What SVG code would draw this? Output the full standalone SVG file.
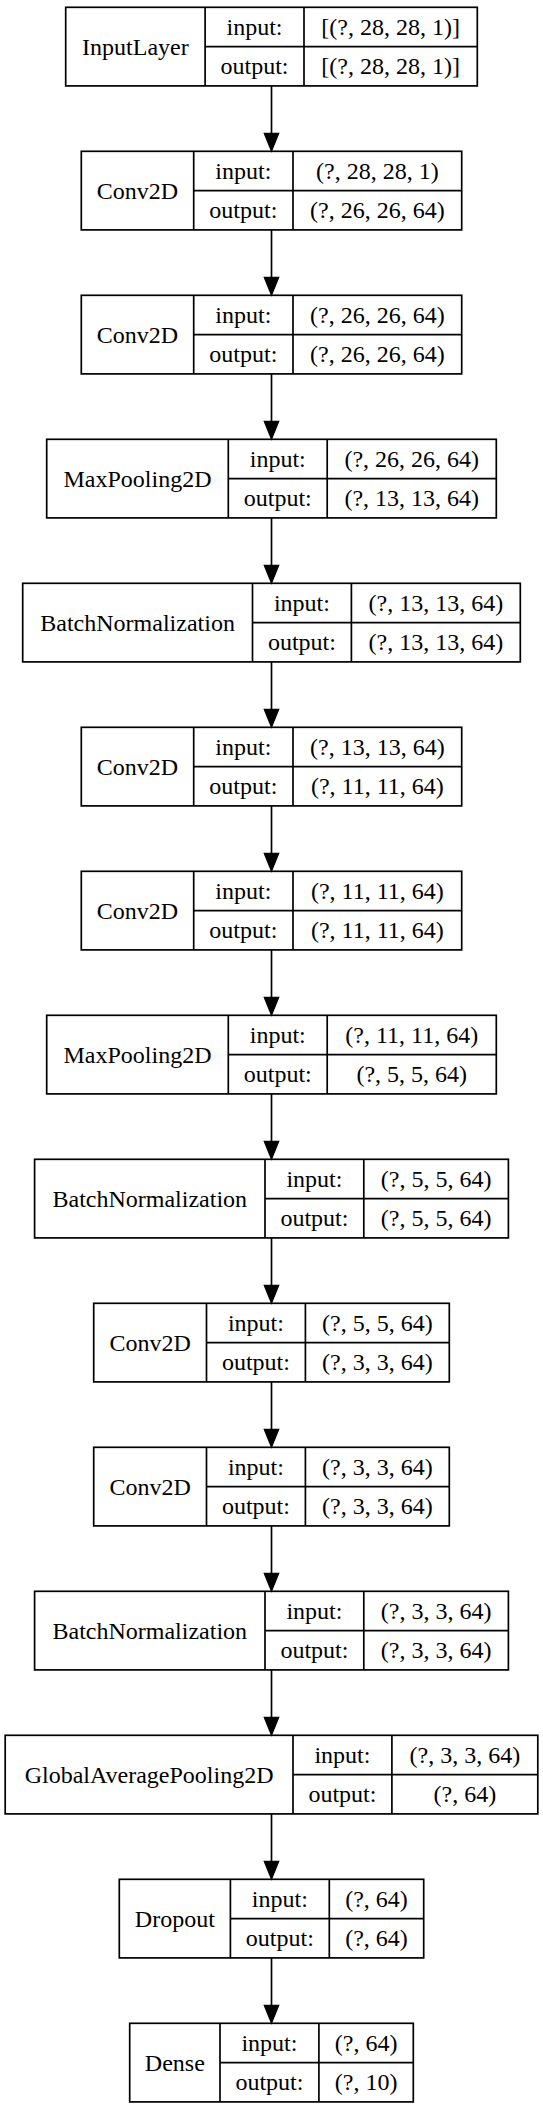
<svg xmlns="http://www.w3.org/2000/svg" width="543" height="2110" viewBox="0 0 543 2110">
<style>
.b{fill:none;stroke:#000;stroke-width:1.7}
.l{stroke:#000;stroke-width:1.7}
text{font-family:"Liberation Serif","Times New Roman",serif;font-size:24px;fill:#000;text-anchor:middle}
.e{stroke:#000;stroke-width:1.7;fill:none}
.h{fill:#000;stroke:#000;stroke-width:1.7}
</style>
<rect width="543" height="2110" fill="#fff"/>
<g id="connectors">
<line class="e" x1="271.5" y1="85.9" x2="271.5" y2="134"/><polygon class="h" points="264.6,133.6 278.4,133.6 271.5,150.6"/>
<line class="e" x1="271.5" y1="229.9" x2="271.5" y2="278"/><polygon class="h" points="264.6,277.6 278.4,277.6 271.5,294.6"/>
<line class="e" x1="271.5" y1="373.9" x2="271.5" y2="422"/><polygon class="h" points="264.6,421.6 278.4,421.6 271.5,438.6"/>
<line class="e" x1="271.5" y1="517.9" x2="271.5" y2="566"/><polygon class="h" points="264.6,565.6 278.4,565.6 271.5,582.6"/>
<line class="e" x1="271.5" y1="661.9" x2="271.5" y2="710"/><polygon class="h" points="264.6,709.6 278.4,709.6 271.5,726.6"/>
<line class="e" x1="271.5" y1="805.9" x2="271.5" y2="854"/><polygon class="h" points="264.6,853.6 278.4,853.6 271.5,870.6"/>
<line class="e" x1="271.5" y1="949.9" x2="271.5" y2="998"/><polygon class="h" points="264.6,997.6 278.4,997.6 271.5,1014.6"/>
<line class="e" x1="271.5" y1="1093.9" x2="271.5" y2="1142"/><polygon class="h" points="264.6,1141.6 278.4,1141.6 271.5,1158.6"/>
<line class="e" x1="271.5" y1="1237.9" x2="271.5" y2="1286"/><polygon class="h" points="264.6,1285.6 278.4,1285.6 271.5,1302.6"/>
<line class="e" x1="271.5" y1="1381.9" x2="271.5" y2="1430"/><polygon class="h" points="264.6,1429.6 278.4,1429.6 271.5,1446.6"/>
<line class="e" x1="271.5" y1="1525.9" x2="271.5" y2="1574"/><polygon class="h" points="264.6,1573.6 278.4,1573.6 271.5,1590.6"/>
<line class="e" x1="271.5" y1="1669.9" x2="271.5" y2="1718"/><polygon class="h" points="264.6,1717.6 278.4,1717.6 271.5,1734.6"/>
<line class="e" x1="271.5" y1="1813.9" x2="271.5" y2="1862"/><polygon class="h" points="264.6,1861.6 278.4,1861.6 271.5,1878.6"/>
<line class="e" x1="271.5" y1="1957.9" x2="271.5" y2="2006"/><polygon class="h" points="264.6,2005.6 278.4,2005.6 271.5,2022.6"/>
</g>
<g id="n0" transform="translate(0,7.3)">
<rect class="b" x="65.7" y="0" width="411.6" height="78.6"/>
<line class="l" x1="205.1" y1="0" x2="205.1" y2="78.6"/><line class="l" x1="304" y1="0" x2="304" y2="78.6"/><line class="l" x1="205.1" y1="39.3" x2="477.3" y2="39.3"/>
<text x="135.4" y="47.6">InputLayer</text>
<text x="254.55" y="27.6">input:</text><text x="254.55" y="66.9">output:</text>
<text x="390.65" y="27.6">[(?, 28, 28, 1)]</text><text x="390.65" y="66.9">[(?, 28, 28, 1)]</text>
</g>
<g id="n1" transform="translate(0,151.3)">
<rect class="b" x="81.3" y="0" width="380.4" height="78.6"/>
<line class="l" x1="193.7" y1="0" x2="193.7" y2="78.6"/><line class="l" x1="293" y1="0" x2="293" y2="78.6"/><line class="l" x1="193.7" y1="39.3" x2="461.7" y2="39.3"/>
<text x="137.5" y="47.6">Conv2D</text>
<text x="243.35" y="27.6">input:</text><text x="243.35" y="66.9">output:</text>
<text x="377.35" y="27.6">(?, 28, 28, 1)</text><text x="377.35" y="66.9">(?, 26, 26, 64)</text>
</g>
<g id="n2" transform="translate(0,295.3)">
<rect class="b" x="81.3" y="0" width="380.4" height="78.6"/>
<line class="l" x1="193.7" y1="0" x2="193.7" y2="78.6"/><line class="l" x1="293" y1="0" x2="293" y2="78.6"/><line class="l" x1="193.7" y1="39.3" x2="461.7" y2="39.3"/>
<text x="137.5" y="47.6">Conv2D</text>
<text x="243.35" y="27.6">input:</text><text x="243.35" y="66.9">output:</text>
<text x="377.35" y="27.6">(?, 26, 26, 64)</text><text x="377.35" y="66.9">(?, 26, 26, 64)</text>
</g>
<g id="n3" transform="translate(0,439.3)">
<rect class="b" x="46.7" y="0" width="449.6" height="78.6"/>
<line class="l" x1="228.3" y1="0" x2="228.3" y2="78.6"/><line class="l" x1="327.2" y1="0" x2="327.2" y2="78.6"/><line class="l" x1="228.3" y1="39.3" x2="496.3" y2="39.3"/>
<text x="137.5" y="47.6">MaxPooling2D</text>
<text x="277.75" y="27.6">input:</text><text x="277.75" y="66.9">output:</text>
<text x="411.75" y="27.6">(?, 26, 26, 64)</text><text x="411.75" y="66.9">(?, 13, 13, 64)</text>
</g>
<g id="n4" transform="translate(0,583.3)">
<rect class="b" x="22.7" y="0" width="497.6" height="78.6"/>
<line class="l" x1="252.5" y1="0" x2="252.5" y2="78.6"/><line class="l" x1="351.4" y1="0" x2="351.4" y2="78.6"/><line class="l" x1="252.5" y1="39.3" x2="520.3" y2="39.3"/>
<text x="137.6" y="47.6">BatchNormalization</text>
<text x="301.95" y="27.6">input:</text><text x="301.95" y="66.9">output:</text>
<text x="435.85" y="27.6">(?, 13, 13, 64)</text><text x="435.85" y="66.9">(?, 13, 13, 64)</text>
</g>
<g id="n5" transform="translate(0,727.3)">
<rect class="b" x="81.3" y="0" width="380.4" height="78.6"/>
<line class="l" x1="193.7" y1="0" x2="193.7" y2="78.6"/><line class="l" x1="293" y1="0" x2="293" y2="78.6"/><line class="l" x1="193.7" y1="39.3" x2="461.7" y2="39.3"/>
<text x="137.5" y="47.6">Conv2D</text>
<text x="243.35" y="27.6">input:</text><text x="243.35" y="66.9">output:</text>
<text x="377.35" y="27.6">(?, 13, 13, 64)</text><text x="377.35" y="66.9">(?, 11, 11, 64)</text>
</g>
<g id="n6" transform="translate(0,871.3)">
<rect class="b" x="81.3" y="0" width="380.4" height="78.6"/>
<line class="l" x1="193.7" y1="0" x2="193.7" y2="78.6"/><line class="l" x1="293" y1="0" x2="293" y2="78.6"/><line class="l" x1="193.7" y1="39.3" x2="461.7" y2="39.3"/>
<text x="137.5" y="47.6">Conv2D</text>
<text x="243.35" y="27.6">input:</text><text x="243.35" y="66.9">output:</text>
<text x="377.35" y="27.6">(?, 11, 11, 64)</text><text x="377.35" y="66.9">(?, 11, 11, 64)</text>
</g>
<g id="n7" transform="translate(0,1015.3)">
<rect class="b" x="46.7" y="0" width="449.6" height="78.6"/>
<line class="l" x1="228.3" y1="0" x2="228.3" y2="78.6"/><line class="l" x1="327.2" y1="0" x2="327.2" y2="78.6"/><line class="l" x1="228.3" y1="39.3" x2="496.3" y2="39.3"/>
<text x="137.5" y="47.6">MaxPooling2D</text>
<text x="277.75" y="27.6">input:</text><text x="277.75" y="66.9">output:</text>
<text x="411.75" y="27.6">(?, 11, 11, 64)</text><text x="411.75" y="66.9">(?, 5, 5, 64)</text>
</g>
<g id="n8" transform="translate(0,1159.3)">
<rect class="b" x="34.6" y="0" width="473.8" height="78.6"/>
<line class="l" x1="265" y1="0" x2="265" y2="78.6"/><line class="l" x1="363.8" y1="0" x2="363.8" y2="78.6"/><line class="l" x1="265" y1="39.3" x2="508.4" y2="39.3"/>
<text x="149.8" y="47.6">BatchNormalization</text>
<text x="314.4" y="27.6">input:</text><text x="314.4" y="66.9">output:</text>
<text x="436.1" y="27.6">(?, 5, 5, 64)</text><text x="436.1" y="66.9">(?, 5, 5, 64)</text>
</g>
<g id="n9" transform="translate(0,1303.3)">
<rect class="b" x="93.7" y="0" width="355.6" height="78.6"/>
<line class="l" x1="206.5" y1="0" x2="206.5" y2="78.6"/><line class="l" x1="305.4" y1="0" x2="305.4" y2="78.6"/><line class="l" x1="206.5" y1="39.3" x2="449.3" y2="39.3"/>
<text x="150.1" y="47.6">Conv2D</text>
<text x="255.95" y="27.6">input:</text><text x="255.95" y="66.9">output:</text>
<text x="377.35" y="27.6">(?, 5, 5, 64)</text><text x="377.35" y="66.9">(?, 3, 3, 64)</text>
</g>
<g id="n10" transform="translate(0,1447.3)">
<rect class="b" x="93.7" y="0" width="355.6" height="78.6"/>
<line class="l" x1="206.5" y1="0" x2="206.5" y2="78.6"/><line class="l" x1="305.4" y1="0" x2="305.4" y2="78.6"/><line class="l" x1="206.5" y1="39.3" x2="449.3" y2="39.3"/>
<text x="150.1" y="47.6">Conv2D</text>
<text x="255.95" y="27.6">input:</text><text x="255.95" y="66.9">output:</text>
<text x="377.35" y="27.6">(?, 3, 3, 64)</text><text x="377.35" y="66.9">(?, 3, 3, 64)</text>
</g>
<g id="n11" transform="translate(0,1591.3)">
<rect class="b" x="34.6" y="0" width="473.8" height="78.6"/>
<line class="l" x1="265" y1="0" x2="265" y2="78.6"/><line class="l" x1="363.8" y1="0" x2="363.8" y2="78.6"/><line class="l" x1="265" y1="39.3" x2="508.4" y2="39.3"/>
<text x="149.8" y="47.6">BatchNormalization</text>
<text x="314.4" y="27.6">input:</text><text x="314.4" y="66.9">output:</text>
<text x="436.1" y="27.6">(?, 3, 3, 64)</text><text x="436.1" y="66.9">(?, 3, 3, 64)</text>
</g>
<g id="n12" transform="translate(0,1735.3)">
<rect class="b" x="5.2" y="0" width="532.6" height="78.6"/>
<line class="l" x1="293" y1="0" x2="293" y2="78.6"/><line class="l" x1="391.9" y1="0" x2="391.9" y2="78.6"/><line class="l" x1="293" y1="39.3" x2="537.8" y2="39.3"/>
<text x="149.1" y="47.6">GlobalAveragePooling2D</text>
<text x="342.45" y="27.6">input:</text><text x="342.45" y="66.9">output:</text>
<text x="464.85" y="27.6">(?, 3, 3, 64)</text><text x="464.85" y="66.9">(?, 64)</text>
</g>
<g id="n13" transform="translate(0,1879.3)">
<rect class="b" x="119.3" y="0" width="304.4" height="78.6"/>
<line class="l" x1="230.4" y1="0" x2="230.4" y2="78.6"/><line class="l" x1="329.3" y1="0" x2="329.3" y2="78.6"/><line class="l" x1="230.4" y1="39.3" x2="423.7" y2="39.3"/>
<text x="174.85" y="47.6">Dropout</text>
<text x="279.85" y="27.6">input:</text><text x="279.85" y="66.9">output:</text>
<text x="376.5" y="27.6">(?, 64)</text><text x="376.5" y="66.9">(?, 64)</text>
</g>
<g id="n14" transform="translate(0,2023.3)">
<rect class="b" x="129.7" y="0" width="283.6" height="78.6"/>
<line class="l" x1="220" y1="0" x2="220" y2="78.6"/><line class="l" x1="318.9" y1="0" x2="318.9" y2="78.6"/><line class="l" x1="220" y1="39.3" x2="413.3" y2="39.3"/>
<text x="174.85" y="47.6">Dense</text>
<text x="269.45" y="27.6">input:</text><text x="269.45" y="66.9">output:</text>
<text x="366.1" y="27.6">(?, 64)</text><text x="366.1" y="66.9">(?, 10)</text>
</g>
</svg>
